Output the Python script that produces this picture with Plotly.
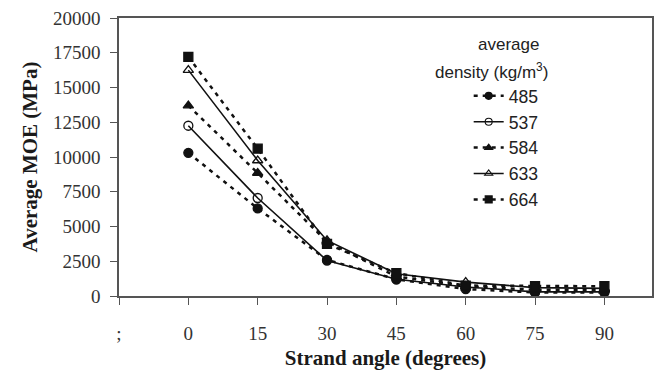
import plotly.graph_objects as go

angles = [0, 15, 30, 45, 60, 75, 90]
densities = ["485", "537", "584", "633", "664"]
moe_485 = [10300, 6300, 2600, 1200, 500, 250, 250]
moe_537 = [12250, 7050, 2550, 1200, 650, 300, 300]
moe_584 = [13700, 8850, 3900, 1400, 700, 450, 450]
moe_633 = [16250, 9750, 4000, 1600, 1000, 600, 550]
moe_664 = [17200, 10600, 3750, 1650, 750, 700, 700]

x_tickvals = [-15, 0, 15, 30, 45, 60, 75, 90]
x_ticktext = [";", "0", "15", "30", "45", "60", "75", "90"]
y_tickvals = [0, 2500, 5000, 7500, 10000, 12500, 15000, 17500, 20000]
y_ticktext = ["0", "2500", "5000", "7500", "10000", "12500", "15000", "17500", "20000"]

series = [
    (densities[0], moe_485, "circle", "4px,5px", 2.5),
    (densities[1], moe_537, "circle-open", "solid", 1.6),
    (densities[2], moe_584, "triangle-up", "4px,5px", 2.5),
    (densities[3], moe_633, "triangle-up-open", "solid", 1.6),
    (densities[4], moe_664, "square", "4px,5px", 2.5),
]

fig = go.Figure()
for name, vals, sym, dash, w in series:
    fig.add_trace(go.Scatter(
        x=angles, y=vals, name=name, mode="lines+markers", legendgroup=name,
        showlegend=False,
        line=dict(color="#111", width=w, dash=dash),
        marker=dict(symbol=sym, size=9, color="#111",
                    line=dict(color="#111", width=1.3)),
    ))
for name, vals, sym, dash, w in series:
    fig.add_trace(go.Scatter(
        x=[None], y=[None], name=name, mode="lines+markers", legendgroup=name,
        showlegend=True,
        line=dict(color="#111", width=w, dash=dash),
        marker=dict(symbol=sym, size=7, color="#111",
                    line=dict(color="#111", width=1.1)),
    ))

W, H = 662, 379
l, r, t, b = 119, 8, 13, 83
pw, ph = W - l - r, H - t - b
def px(xp):
    return (xp - l) / pw
def py(yp):
    return (H - b - yp) / ph

tickfont = dict(family="Liberation Serif", size=19, color="#333")
titlefont = dict(family="Liberation Serif", size=21, color="#1a1a1a")
legfont = dict(family="Liberation Sans", size=17, color="#222")

fig.update_layout(
    width=W, height=H,
    margin=dict(l=l, r=r, t=t, b=b),
    paper_bgcolor="white", plot_bgcolor="white",
    showlegend=True,
    legend=dict(
        x=px(470), y=py(74), xanchor="left", yanchor="top",
        font=dict(family="Liberation Sans", size=17.6, color="#222"),
        bgcolor="rgba(0,0,0,0)", tracegroupgap=0,
    ),
    xaxis=dict(
        range=[-15, 100.3], tickvals=x_tickvals, ticktext=x_ticktext,
        showgrid=False, zeroline=False,
        showline=True, linecolor="#555", linewidth=1.5, mirror=True,
        ticks="outside", ticklen=7, tickcolor="#555", tickwidth=1,
        tickfont=tickfont, ticklabelstandoff=12,
        title=dict(text="<b>Strand angle (degrees)</b>", font=titlefont, standoff=8),
    ),
    yaxis=dict(
        range=[0, 20000], tickvals=y_tickvals, ticktext=y_ticktext,
        showgrid=False, zeroline=False,
        showline=True, linecolor="#555", linewidth=1.5, mirror=True,
        ticks="outside", ticklen=7, tickcolor="#555", tickwidth=1,
        tickfont=tickfont, ticklabelstandoff=6,
        title=dict(text="<b>Average MOE (MPa)</b>", font=titlefont, standoff=10),
    ),
    annotations=[
        dict(text="average", x=px(510), y=py(40), xref="paper", yref="paper",
             xanchor="center", yanchor="middle", showarrow=False, font=legfont),
        dict(text="density (kg/m<sup>3</sup>)", x=px(493), y=py(67),
             xref="paper", yref="paper", xanchor="center", yanchor="middle",
             showarrow=False, font=legfont),
    ],
)

fig.write_html("out.html")
